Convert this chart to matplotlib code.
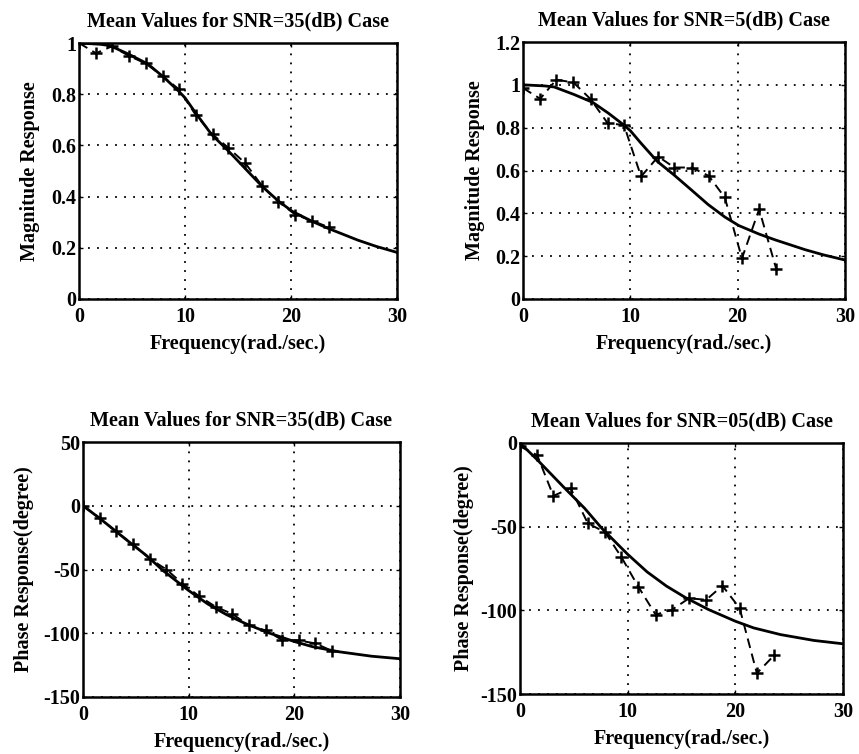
import matplotlib
matplotlib.use("Agg")
import matplotlib.pyplot as plt

plt.rcParams['font.family'] = ['Liberation Serif', 'DejaVu Serif']
plt.rcParams['font.weight'] = 'bold'

# true response (solid curves)
mag_freq = [0, 2, 2.9, 4.75, 6.5, 8.0, 9.4, 10, 11, 12.5, 14.1, 15.6, 17.25,
            18.8, 20.1, 22, 23.5, 26.3, 28, 30]
true_mag = [1.0, 0.995, 0.99, 0.955, 0.918, 0.866, 0.812, 0.786, 0.727, 0.643,
            0.578, 0.513, 0.441, 0.383, 0.343, 0.303, 0.276, 0.230, 0.206, 0.182]
phase_freq = [0, 1.6, 4.0, 6.0, 7.6, 9.3, 10, 11.8, 13.6, 15.4, 17.5, 20,
              21.7, 24.2, 27.3, 30]
true_phase = [0, -10, -26, -39, -51, -62, -66.5, -77, -85.5, -92.5, -99.5,
              -106.5, -110.5, -114.5, -118, -120]

# estimated mean values (crosses, dashed)
est_freq = [0, 1.6, 3.1, 4.7, 6.3, 7.9, 9.4, 11.0, 12.6, 14.1, 15.7, 17.3,
            18.8, 20.4, 22.0, 23.6]
mag_35 = [1.0, 0.96, 0.987, 0.95, 0.92, 0.87, 0.82, 0.72, 0.643, 0.59, 0.53,
          0.44, 0.38, 0.33, 0.305, 0.28]
mag_5 = [0.985, 0.935, 1.024, 1.011, 0.933, 0.82, 0.813, 0.572, 0.665, 0.614,
         0.614, 0.575, 0.474, 0.19, 0.419, 0.139]
phase_35 = [0, -9.7, -20, -30, -41.5, -50, -61, -71, -79.5, -84.7, -93.9,
            -97.8, -105, -105.6, -108, -114]
phase_5 = [-2, -7.3, -31.6, -27, -48, -53.3, -68, -86, -102.6, -99.7, -92.8,
           -93.7, -85.3, -98.7, -137.6, -126.9]

panels = [
    # pixel box (left, right, top, bottom), ylabel x (px, centre), title, ylabel,
    # estimates, truth x, truth y, ylim, yticks, yticklabels
    ((79, 397, 43, 299), 28, "Mean Values for SNR=35(dB) Case", "Magnitude Response",
     mag_35, mag_freq, true_mag, (0, 1), [0, 0.2, 0.4, 0.6, 0.8, 1],
     ["0", "0.2", "0.4", "0.6", "0.8", "1"]),
    ((523, 845, 42, 299), 473, "Mean Values for SNR=5(dB) Case", "Magnitude Response",
     mag_5, mag_freq, true_mag, (0, 1.2), [0, 0.2, 0.4, 0.6, 0.8, 1, 1.2],
     ["0", "0.2", "0.4", "0.6", "0.8", "1", "1.2"]),
    ((83, 400, 442, 697), 22, "Mean Values for SNR=35(dB) Case", "Phase Response(degree)",
     phase_35, phase_freq, true_phase, (-150, 50), [-150, -100, -50, 0, 50],
     ["-150", "-100", "-50", "0", "50"]),
    ((520, 843, 443, 694), 462, "Mean Values for SNR=05(dB) Case", "Phase Response(degree)",
     phase_5, phase_freq, true_phase, (-150, 0), [-150, -100, -50, 0],
     ["-150", "-100", "-50", "0"]),
]

W, H = 859, 754
FS = 14.5
fig = plt.figure(figsize=(W / 100, H / 100), dpi=100)
fig.patch.set_facecolor('white')

for (l, r, t, b), ylab_x, title, ylabel, est, tf, truth, ylim, yt, ytl in panels:
    ax = fig.add_axes([l / W, (H - b) / H, (r - l) / W, (b - t) / H])
    ax.plot(tf, truth, color='black', lw=2.0, zorder=3)
    ax.plot(est_freq, est, color='black', lw=1.4, ls=(0, (5, 3)), marker='+',
            ms=9, mew=1.8, zorder=4)
    ax.set_xlim(0, 30)
    ax.set_ylim(*ylim)
    ax.set_xticks([0, 10, 20, 30])
    ax.set_xticklabels(["0", "10", "20", "30"])
    ax.set_yticks(yt)
    ax.set_yticklabels(ytl)
    ax.grid(True, color='black', ls=(0, (1, 4)), lw=1.3)
    ax.tick_params(direction='in', length=3, width=1, top=True, right=True,
                   labelsize=FS)
    ax.tick_params(axis='x', pad=6)
    ax.tick_params(axis='y', pad=2)
    for s in ax.spines.values():
        s.set_linewidth(1.8)
    ax.set_title(title, fontsize=FS, fontweight='bold', pad=12)
    ax.set_xlabel("Frequency(rad./sec.)", fontsize=FS, fontweight='bold', labelpad=5)
    ax.set_ylabel(ylabel, fontsize=FS, fontweight='bold')
    # ylabel anchor is the right edge of the rotated text
    ax.yaxis.set_label_coords((ylab_x + 12 - l) / (r - l), 0.5)

fig.savefig("out.png", dpi=100)
